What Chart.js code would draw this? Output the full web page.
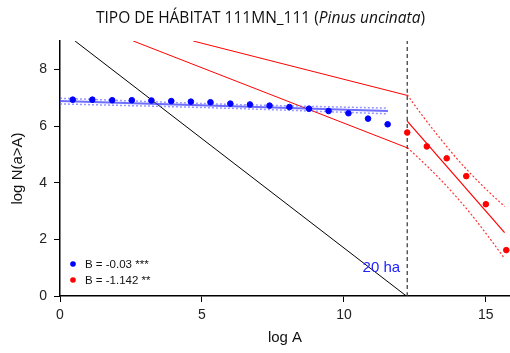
<!DOCTYPE html>
<html>
<head>
<meta charset="utf-8">
<script src="https://cdn.jsdelivr.net/npm/chart.js@4.4.0/dist/chart.umd.min.js"></script>
<style>
body{margin:0;background:#fff;}
#wrap{position:relative;width:510px;height:353px;}
#title{position:absolute;top:7px;left:0;width:521px;text-align:center;font-family:"Open Sans",sans-serif;font-size:15.5px;line-height:20px;color:#111;z-index:2;}
</style>
</head>
<body>
<div id="wrap">
	<div id="title">TIPO DE HÁBITAT 111MN_111 (<i>Pinus uncinata</i>)</div>
	<canvas id="chart"></canvas>
</div>
<script>
"use strict";

// observed points (log A, log N(a>A))
var blueX = [0.45, 1.14, 1.84, 2.53, 3.22, 3.92, 4.61, 5.30, 6.00, 6.69, 7.38, 8.08, 8.77, 9.46, 10.16, 10.85, 11.54];
var blueY = [6.93, 6.93, 6.91, 6.91, 6.90, 6.88, 6.86, 6.84, 6.79, 6.76, 6.72, 6.67, 6.61, 6.53, 6.45, 6.26, 6.06];
var redX = [12.23, 12.92, 13.62, 14.31, 15.00, 15.72];
var redY = [5.77, 5.28, 4.86, 4.23, 3.24, 1.62];

// fitted lines and bands
var blueFitX = [0, 11.55];
var blueFitY = [6.88, 6.53];
var blueBandX = [0, 5.8, 11.55];
var blueUpperY = [6.98, 6.77, 6.63];
var blueLowerY = [6.78, 6.63, 6.43];

var redFitX = [12.23, 15.66];
var redFitY = [6.17, 2.24];
var redBandX = [12.23, 12.8, 13.4, 13.97, 14.5, 15.1, 15.66];
var redUpperY = [7.10, 6.32, 5.55, 4.86, 4.28, 3.68, 3.16];
var redLowerY = [5.24, 4.71, 4.11, 3.49, 2.86, 2.08, 1.32];

// extrapolated band limits (left of threshold)
var redLeftUpperX = [4.69, 12.23];
var redLeftUpperY = [9, 7.08];
var redLeftLowerX = [2.58, 12.23];
var redLeftLowerY = [9, 5.23];

var blackX = [0.53, 12.2];
var blackY = [9, 0];

var thresholdX = [12.23, 12.23];
var thresholdY = [0, 9];

var xTicks = [0, 5, 10, 15];
var yTicks = [0, 2, 4, 6, 8];
var legendLabels = ['B = -0.03 ***', 'B = -1.142 **'];
var legendColors = ['#0000ff', '#ff0000'];
var thresholdLabel = '20 ha';

function pts(xs, ys) {
	return xs.map(function(x, i){ return {x: x, y: ys[i]}; });
}

function lineSet(xs, ys, color, width, dash, order) {
	return {
		data: pts(xs, ys),
		showLine: true,
		borderColor: color,
		borderWidth: width,
		borderDash: dash || [],
		pointRadius: 0,
		fill: false,
		cubicInterpolationMode: 'monotone',
		order: order
	};
}

var labelPlugin = {
	id: 'labels',
	afterDatasetsDraw: function(chart) {
		var ctx = chart.ctx;
		var area = chart.chartArea;
		ctx.save();
		ctx.font = '11.5px "Liberation Sans", Arial, sans-serif';
		ctx.textBaseline = 'middle';
		legendLabels.forEach(function(txt, i){
			var y = area.bottom - 32 + i * 16;
			ctx.fillStyle = legendColors[i];
			ctx.beginPath();
			ctx.arc(area.left + 13, y, 2.8, 0, Math.PI * 2);
			ctx.fill();
			ctx.fillStyle = '#111';
			ctx.fillText(txt, area.left + 25, y + 0.5);
		});
		var xs = chart.scales.x, ys = chart.scales.y;
		ctx.font = '15px "Liberation Sans", Arial, sans-serif';
		ctx.fillStyle = '#2222ff';
		ctx.textAlign = 'center';
		ctx.fillText(thresholdLabel, xs.getPixelForValue(11.32), ys.getPixelForValue(0.99));
		ctx.restore();
	}
};

window.addEventListener('load', function(){
	var font = '"Liberation Sans", Arial, sans-serif';
	var datasets = [
		{data: pts(blueX, blueY), backgroundColor: '#0000ff', borderColor: '#0000ff', pointRadius: 2.8, pointStyle: 'circle', order: 0},
		{data: pts(redX, redY), backgroundColor: '#ff0000', borderColor: '#ff0000', pointRadius: 2.8, pointStyle: 'circle', order: 0},
		lineSet(blueFitX, blueFitY, 'rgba(60,60,255,0.75)', 2, null, 2),
		lineSet(blueBandX, blueUpperY, 'rgba(80,80,255,0.6)', 1.5, [2, 2], 2),
		lineSet(blueBandX, blueLowerY, 'rgba(80,80,255,0.6)', 1.5, [2, 2], 2),
		lineSet(redFitX, redFitY, '#ff0000', 1.2, null, 2),
		lineSet(redBandX, redUpperY, 'rgba(255,0,0,0.8)', 1.2, [2, 2], 2),
		lineSet(redBandX, redLowerY, 'rgba(255,0,0,0.8)', 1.2, [2, 2], 2),
		lineSet(redLeftUpperX, redLeftUpperY, '#ff0000', 1, null, 3),
		lineSet(redLeftLowerX, redLeftLowerY, '#ff0000', 1, null, 3),
		lineSet(blackX, blackY, '#000', 1, null, 3),
		lineSet(thresholdX, thresholdY, '#333', 1.2, [4, 3], 3)
	];

	new Chart(document.getElementById('chart').getContext('2d'), {
		type: 'scatter',
		data: {datasets: datasets},
		plugins: [labelPlugin],
		options: {
			responsive: true,
			maintainAspectRatio: false,
			animation: false,
			layout: {autoPadding: false, padding: {top: 41, left: 0, right: 0, bottom: 0}},
			plugins: {
				legend: {display: false},
				tooltip: {enabled: false},
				title: {display: false}
			},
			scales: {
				x: {
					type: 'linear',
					min: 0,
					max: 15.85,
					afterBuildTicks: function(s){ s.ticks = xTicks.map(function(v){ return {value: v}; }); },
					afterFit: function(s){ s.height = 57; },
					grid: {display: true, drawOnChartArea: false, drawTicks: true, tickLength: 6, color: '#000'},
					border: {display: true, color: '#000', width: 1.5},
					ticks: {color: '#222', font: {family: font, size: 14}, padding: 5, maxRotation: 0},
					title: {display: true, text: 'log A', color: '#111', font: {family: font, size: 15}, padding: {top: 0, bottom: 6}}
				},
				y: {
					type: 'linear',
					min: 0,
					max: 9,
					afterBuildTicks: function(s){ s.ticks = yTicks.map(function(v){ return {value: v}; }); },
					afterFit: function(s){ s.width = 60; },
					grid: {display: true, drawOnChartArea: false, drawTicks: true, tickLength: 6, color: '#000'},
					border: {display: true, color: '#000', width: 1.5},
					ticks: {color: '#222', font: {family: font, size: 14}, padding: 7},
					title: {display: true, text: 'log N(a>A)', color: '#111', font: {family: font, size: 15}, padding: {top: 9, bottom: 0}}
				}
			}
		}
	});
});
</script>
</body>
</html>
